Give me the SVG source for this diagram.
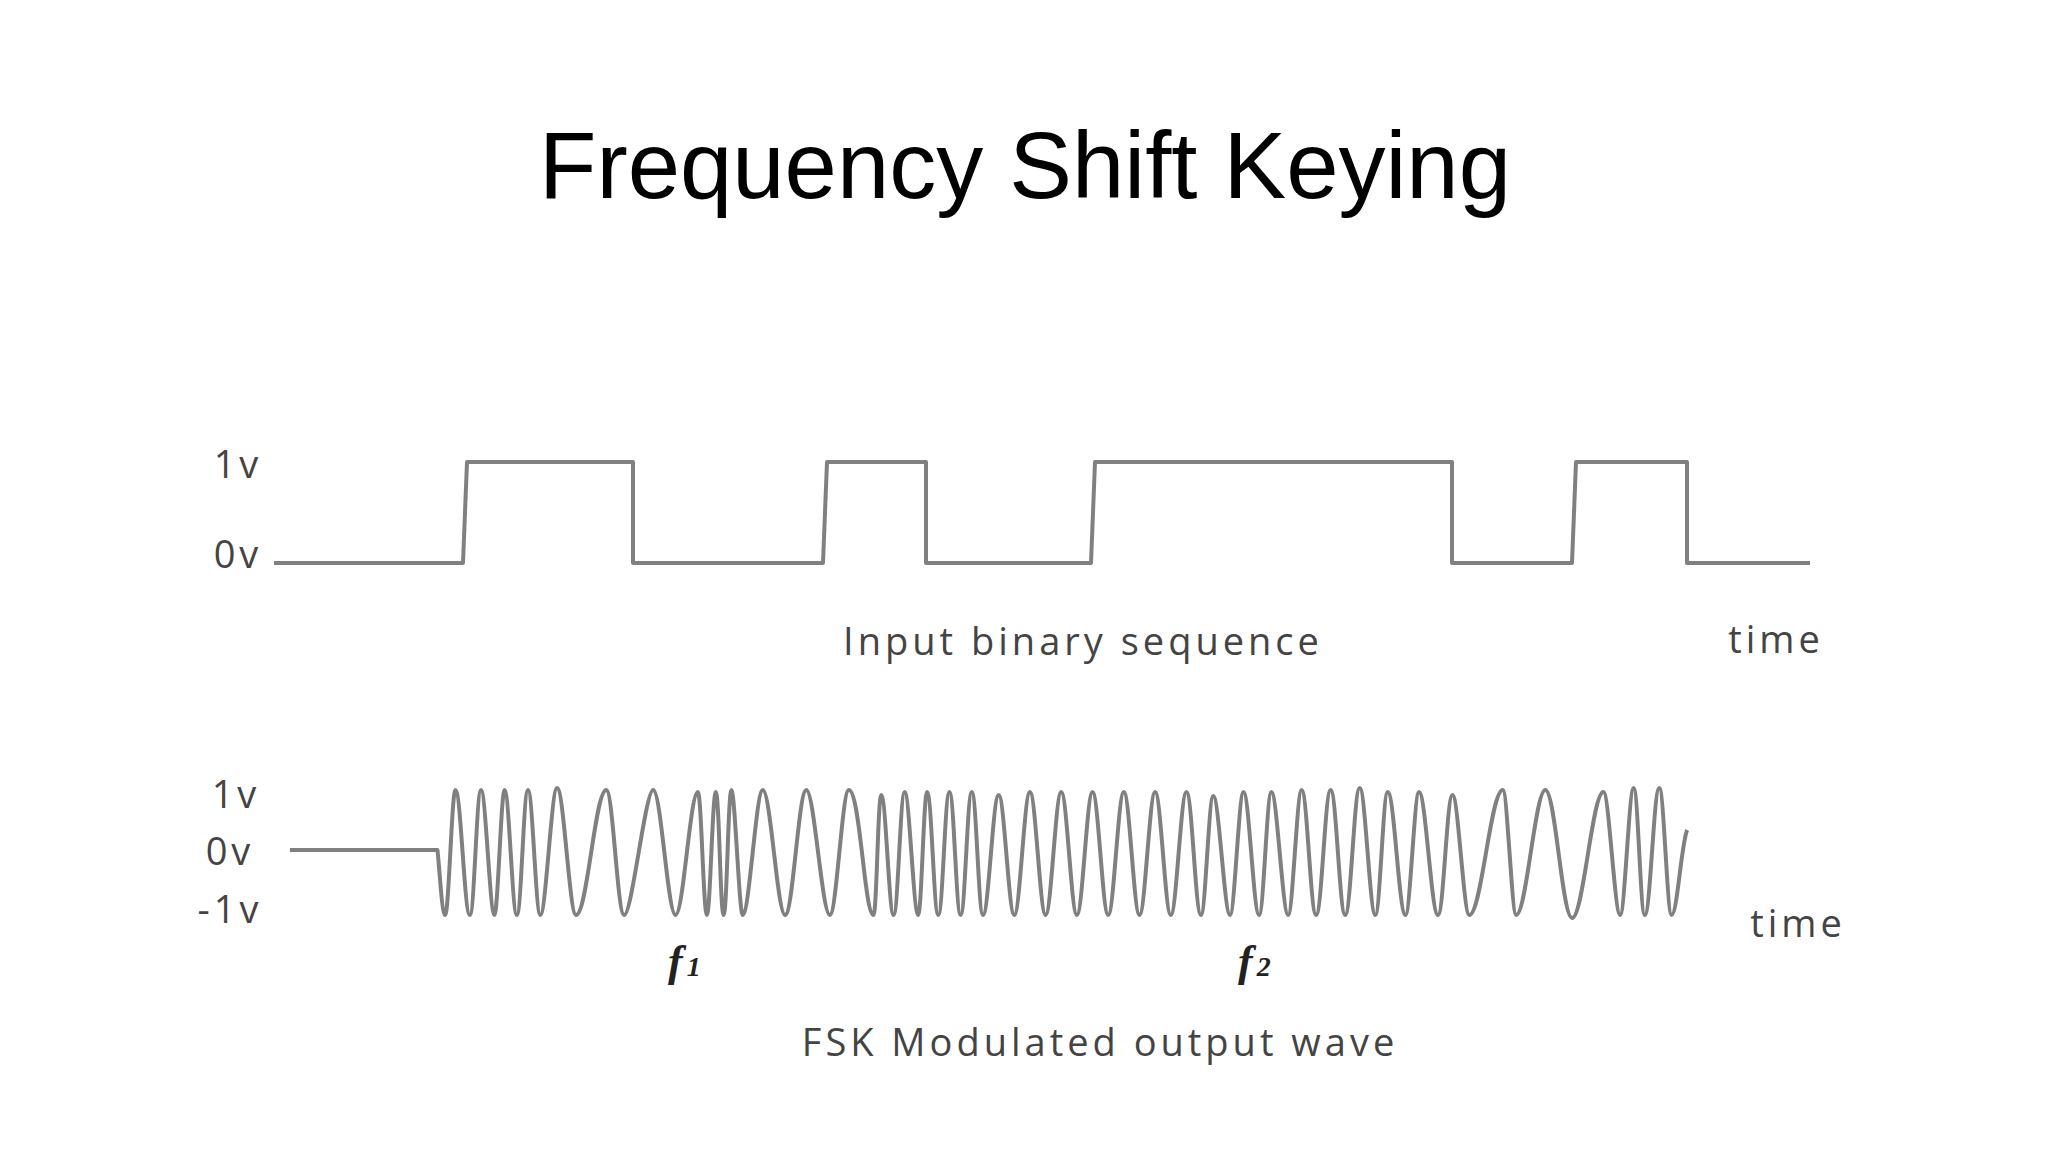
<svg xmlns="http://www.w3.org/2000/svg" width="2048" height="1152" viewBox="0 0 2048 1152">
<style>
.lbl{font-family:"Open Sans","DejaVu Sans",sans-serif;font-size:38px;letter-spacing:4px;fill:#444}
.sig{fill:none;stroke:#808080;stroke-width:4;stroke-linejoin:round}
.f{font-family:"Liberation Serif",serif;font-style:italic;font-weight:bold;font-size:44px;fill:#222}
</style>
<rect width="2048" height="1152" fill="#fff"/>
<text x="1025" y="198" text-anchor="middle" font-family="Liberation Sans,Arial,sans-serif" font-size="94" fill="#000">Frequency Shift Keying</text>
<g id="input">
<path class="sig" d="M274 563 H463 L467 462 H633 V563 H823 L827 462 H926 V563 H1091 L1095 462 H1452 V563 H1572 L1576 462 H1687 V563 H1810"/>
<text class="lbl" x="238" y="478" text-anchor="middle">1v</text>
<text class="lbl" x="238" y="568" text-anchor="middle">0v</text>
<text class="lbl" x="1083" y="655" text-anchor="middle">Input binary sequence</text>
<text class="lbl" x="1776" y="653" text-anchor="middle">time</text>
</g>
<g id="output">
<path class="sig" vector-effect="non-scaling-stroke" transform="matrix(1.1179 0 0 1 -34.3 0)" d="M290 850 H422 C424 870 426 915 429 915 C432 915 435 790 438 790 C443 790 446 915 451 915 C455 915 457 790 461 790 C465 790 469 915 473 915 C476 915 479 790 482 790 C486 790 489 915 493 915 C497 915 499 790 503 790 C507 790 510 915 514 915 C519 915 524 788 529 788 C535 788 540 915 546 915 C556 915 563 790 573 790 C579 790 583 915 589 915 C596 915 608 790 615 790 C622 790 628 915 635 915 C642 915 648 792 655 792 C658 792 660 915 663 915 C666 915 668 792 671 792 C674 792 675 915 678 915 C681 915 682 790 685 790 C688 790 692 915 695 915 C701 915 707 790 713 790 C720 790 726 915 733 915 C740 915 745 790 752 790 C759 790 766 915 773 915 C779 915 784 790 790 790 C800 790 804 915 812 915 C815 915 816 795 819 795 C823 795 826 915 830 915 C834 915 836 792 840 792 C844 792 848 915 852 915 C855 915 857 792 860 792 C864 792 866 915 870 915 C874 915 876 792 880 792 C884 792 886 915 890 915 C894 915 896 792 900 792 C904 792 906 915 910 915 C915 915 919 795 924 795 C929 795 933 915 938 915 C943 915 947 792 952 792 C957 792 961 915 966 915 C971 915 975 792 980 792 C985 792 989 915 994 915 C999 915 1003 792 1008 792 C1013 792 1017 915 1022 915 C1027 915 1031 792 1036 792 C1041 792 1045 915 1050 915 C1055 915 1059 792 1064 792 C1069 792 1073 915 1078 915 C1083 915 1087 792 1092 792 C1097 792 1100 915 1105 915 C1109 915 1112 796 1116 796 C1121 796 1126 915 1131 915 C1135 915 1139 792 1143 792 C1148 792 1152 915 1157 915 C1161 915 1164 792 1168 792 C1173 792 1178 915 1183 915 C1187 915 1191 790 1195 790 C1200 790 1203 915 1208 915 C1213 915 1216 790 1221 790 C1226 790 1229 915 1234 915 C1239 915 1242 788 1247 788 C1252 788 1256 915 1261 915 C1265 915 1268 792 1272 792 C1278 792 1282 915 1288 915 C1292 915 1296 792 1300 792 C1306 792 1311 915 1317 915 C1322 915 1325 795 1330 795 C1335 795 1340 915 1345 915 C1356 915 1364 790 1375 790 C1379 790 1383 915 1387 915 C1396 915 1404 790 1413 790 C1422 790 1428 918 1437 918 C1447 918 1455 792 1465 792 C1470 792 1475 915 1480 915 C1484 915 1488 788 1492 788 C1496 788 1498 915 1502 915 C1507 915 1510 788 1515 788 C1519 788 1522 915 1526 915 C1531 915 1535 840 1540 830"/>
<text class="lbl" x="236" y="808" text-anchor="middle">1v</text>
<text class="lbl" x="230" y="865" text-anchor="middle">0v</text>
<text class="lbl" x="230" y="923" text-anchor="middle">-1v</text>
<text class="lbl" x="1798" y="937" text-anchor="middle">time</text>
<text class="f" x="668" y="976">f<tspan font-size="28" dx="4">1</tspan></text>
<text class="f" x="1238" y="976">f<tspan font-size="28" dx="4">2</tspan></text>
<text class="lbl" x="1100" y="1056" text-anchor="middle">FSK Modulated output wave</text>
</g>
</svg>
